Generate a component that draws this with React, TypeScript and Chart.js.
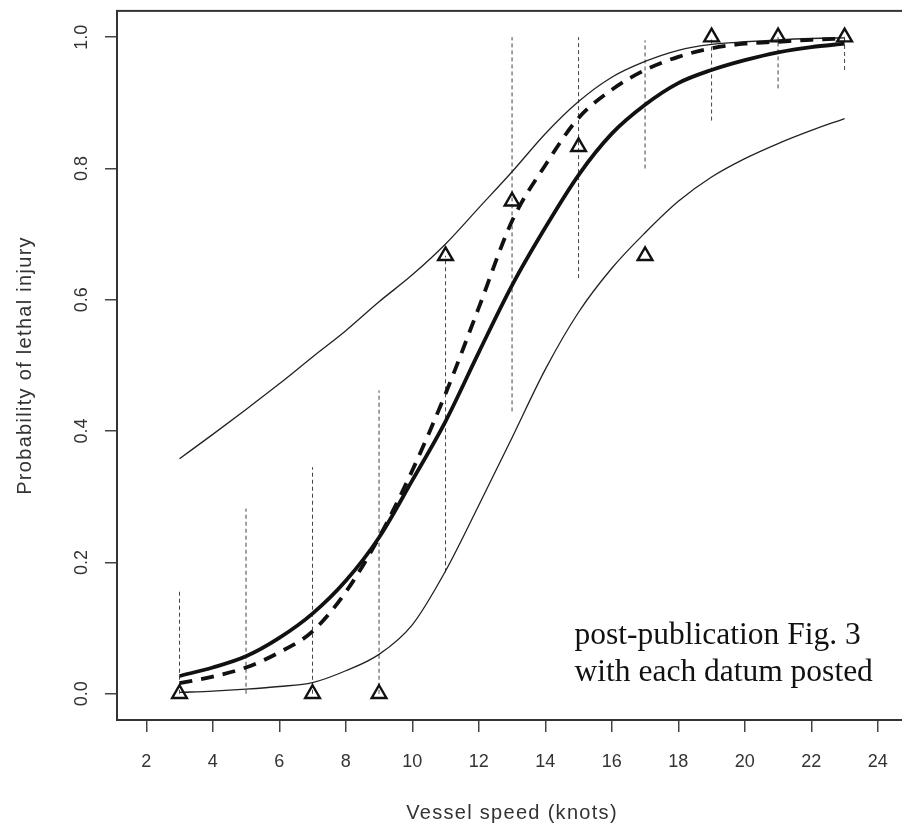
import React, { useEffect, useRef } from "react";
import { Chart, registerables } from "chart.js";

Chart.register(...registerables);

// ---- data ----
const speeds = [3, 4, 5, 6, 7, 8, 9, 10, 11, 12, 13, 14, 15, 16, 17, 18, 19, 20, 21, 22, 23];
const fitSolid = [0.027, 0.04, 0.057, 0.085, 0.122, 0.172, 0.238, 0.325, 0.415, 0.52, 0.622, 0.71, 0.79, 0.853, 0.897, 0.93, 0.95, 0.965, 0.977, 0.985, 0.99];
const fitDashed = [0.016, 0.026, 0.04, 0.063, 0.095, 0.155, 0.238, 0.34, 0.457, 0.588, 0.72, 0.805, 0.877, 0.92, 0.95, 0.97, 0.983, 0.99, 0.993, 0.996, 0.998];
const upperBand = [0.358, 0.395, 0.433, 0.472, 0.513, 0.553, 0.597, 0.638, 0.685, 0.74, 0.795, 0.853, 0.902, 0.939, 0.963, 0.98, 0.989, 0.993, 0.996, 0.998, 0.999];
const lowerBand = [0.002, 0.004, 0.007, 0.011, 0.017, 0.035, 0.06, 0.105, 0.187, 0.287, 0.39, 0.494, 0.581, 0.648, 0.702, 0.75, 0.787, 0.815, 0.838, 0.858, 0.876];

const obsSpeed = [3, 7, 9, 11, 13, 15, 17, 19, 21, 23];
const obsProp = [0, 0, 0, 0.667, 0.75, 0.833, 0.667, 1, 1, 1];

const barSpeed = [3, 5, 7, 9, 11, 13, 15, 17, 19, 21, 23];
const barLow = [0, 0, 0, 0, 0.185, 0.43, 0.633, 0.8, 0.873, 0.922, 0.95];
const barHigh = [0.157, 0.282, 0.345, 0.462, 0.667, 1.0, 1.0, 0.995, 1.0, 1.0, 1.0];

const xTicks = [2, 4, 6, 8, 10, 12, 14, 16, 18, 20, 22, 24];
const yTicks = [0, 0.2, 0.4, 0.6, 0.8, 1.0];
const xTitle = "Vessel speed (knots)";
const yTitle = "Probability of lethal injury";
const noteLines = ["post-publication Fig. 3", "with each datum posted"];
const noteAnchor = { x: 14.88, y: 0.076 };

const SANS = '"Liberation Sans", Arial, Helvetica, sans-serif';
const SERIF = '"Liberation Serif", "Times New Roman", serif';

const framePlugin = {
  id: "frameAndNote",
  afterDatasetsDraw(chart: any) {
    const { ctx, chartArea: a, scales } = chart;
    ctx.save();
    ctx.strokeStyle = "#333";
    ctx.lineWidth = 2;
    ctx.strokeRect(a.left, a.top, a.right - a.left, a.bottom - a.top);
    ctx.font = `31.5px ${SERIF}`;
    ctx.fillStyle = "#111";
    ctx.textAlign = "left";
    ctx.textBaseline = "alphabetic";
    const x = scales.x.getPixelForValue(noteAnchor.x);
    const y = scales.y.getPixelForValue(noteAnchor.y);
    noteLines.forEach((t, i) => ctx.fillText(t, x, y + i * 37));
    ctx.restore();
  },
  afterDraw(chart: any) {
    const { ctx, chartArea: a } = chart;
    ctx.save();
    (ctx as any).letterSpacing = "1.3px";
    ctx.font = `20px ${SANS}`;
    ctx.fillStyle = "#333";
    ctx.textAlign = "center";
    ctx.textBaseline = "middle";
    ctx.fillText(xTitle, (a.left + a.right) / 2, 813);
    ctx.translate(25, (a.top + a.bottom) / 2);
    ctx.rotate(-Math.PI / 2);
    ctx.fillText(yTitle, 0, 0);
    ctx.restore();
  },
};

export default function App() {
  const ref = useRef<HTMLCanvasElement | null>(null);

  useEffect(() => {
    if (!ref.current) return;
    Chart.defaults.font.family = SANS;

    const barSets = barSpeed.map((s, i) => ({
      label: `range ${s}`,
      data: [
        { x: s, y: barLow[i] },
        { x: s, y: barHigh[i] },
      ],
      showLine: true,
      borderColor: "#444",
      borderWidth: 1,
      borderDash: [4, 3],
      pointRadius: 0,
      order: 3,
    }));

    const curve = (vals: number[], label: string, width: number, dash: number[], color: string, order: number) => ({
      label,
      data: speeds.map((s, i) => ({ x: s, y: vals[i] })),
      showLine: true,
      borderColor: color,
      borderWidth: width,
      borderDash: dash,
      pointRadius: 0,
      cubicInterpolationMode: "monotone" as const,
      order,
    });

    const chart = new Chart(ref.current, {
      type: "scatter",
      data: {
        datasets: [
          {
            label: "observed",
            data: obsSpeed.map((s, i) => ({ x: s, y: obsProp[i] })),
            pointStyle: "triangle",
            pointRadius: 8.5,
            pointBorderWidth: 2.4,
            pointBackgroundColor: "rgba(0,0,0,0)",
            pointBorderColor: "#111",
            showLine: false,
            order: 0,
          } as any,
          curve(fitSolid, "fit", 3.8, [], "#111", 1),
          curve(fitDashed, "fit 2", 3.8, [13, 9], "#111", 1),
          curve(upperBand, "upper", 1.3, [], "#222", 2),
          curve(lowerBand, "lower", 1.3, [], "#222", 2),
          ...barSets,
        ],
      },
      options: {
        responsive: false,
        animation: false,
        devicePixelRatio: 1,
        layout: { padding: { top: 10, right: 3, left: 0, bottom: 0 } },
        plugins: { legend: { display: false }, tooltip: { enabled: false } },
        scales: {
          x: {
            type: "linear",
            min: 1.12,
            max: 24.88,
            afterBuildTicks: (s: any) => {
              s.ticks = xTicks.map((v) => ({ value: v }));
            },
            afterFit: (s: any) => {
              s.height = 107;
              s.paddingLeft = 0;
              s.paddingRight = 0;
            },
            ticks: {
              autoSkip: false,
              maxRotation: 0,
              minRotation: 0,
              padding: 19,
              color: "#333",
              font: { size: 18 },
              callback: (v: any) => String(v),
            },
            grid: { drawOnChartArea: false, tickLength: 12, color: "#444", lineWidth: 1.5 },
            border: { display: false },
          },
          y: {
            type: "linear",
            min: -0.04,
            max: 1.04,
            afterBuildTicks: (s: any) => {
              s.ticks = yTicks.map((v) => ({ value: v }));
            },
            afterFit: (s: any) => {
              s.width = 117;
              s.paddingTop = 0;
              s.paddingBottom = 0;
            },
            ticks: {
              autoSkip: false,
              minRotation: 90,
              maxRotation: 90,
              crossAlign: "center",
              padding: 10,
              color: "#333",
              font: { size: 18 },
              callback: (v: any) => Number(v).toFixed(1),
            },
            grid: { drawOnChartArea: false, tickLength: 12, color: "#444", lineWidth: 1.5 },
            border: { display: false },
          },
        },
      },
      plugins: [framePlugin],
    });
    return () => chart.destroy();
  }, []);

  return (
    <div style={{ position: "fixed", left: 0, top: 0, width: 902, height: 827, overflow: "hidden", background: "#fff" }}>
      <canvas ref={ref} width={918} height={827} style={{ display: "block" }} />
    </div>
  );
}
